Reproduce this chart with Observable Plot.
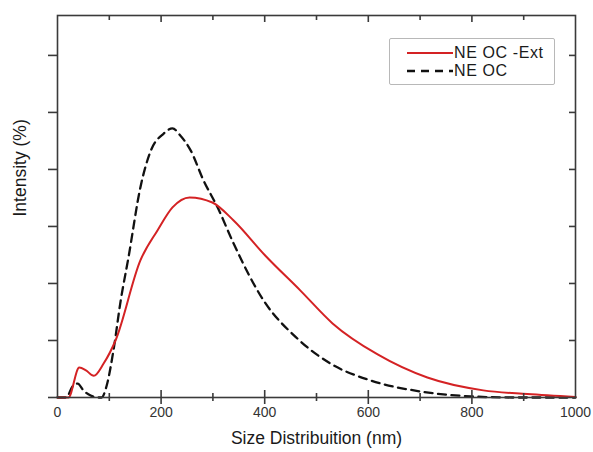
<!DOCTYPE html>
<html>
<head>
<meta charset="utf-8">
<script src="https://cdn.jsdelivr.net/npm/d3@7"></script>
<script src="https://cdn.jsdelivr.net/npm/@observablehq/plot@0.6"></script>
<style>
  body { margin: 0; background: #fff; font-family: "Liberation Sans", Arial, sans-serif; }
  #wrap { position: relative; width: 593px; height: 452px; }
  #legend { position: absolute; left: 389px; top: 38px; width: 166px; height: 47px;
    border: 1.5px solid #b8b8b8; border-radius: 2px; background: #fff; box-sizing: border-box; }
  .row { position: absolute; left: 17px; height: 16px; line-height: 16px; display: flex; align-items: center;
    font-size: 16px; letter-spacing: 0.6px; color: #1a1a1a; white-space: nowrap; }
  .row span { line-height: 16px; }
  .row svg { margin-right: 1px; display: block; }
</style>
</head>
<body>
<div id="wrap"></div>
<script>
// Size (nm) and intensity (%)
const extSize = [0, 21, 42, 55, 70, 89, 112, 160, 193, 222, 255, 299, 340, 400, 469, 531, 618, 714, 822, 907, 1000];
const extIntensity = [0, 0, 1.05, 0.95, 0.76, 1.19, 2.0, 4.81, 5.86, 6.67, 7.02, 6.84, 6.21, 5.0, 3.75, 2.60, 1.51, 0.70, 0.25, 0.12, 0.02];
const ocSize = [0, 17, 29, 39, 50, 64, 77, 85, 95, 108, 122, 137, 160, 180, 205, 222, 237, 257, 282, 309, 340, 398, 463, 527, 604, 701, 797, 880, 1000];
const ocIntensity = [0, 0, 0.39, 0.49, 0.25, 0.07, 0, 0, 0.42, 1.65, 3.40, 4.91, 7.37, 8.65, 9.26, 9.44, 9.19, 8.67, 7.61, 6.67, 5.40, 3.40, 2.07, 1.19, 0.60, 0.21, 0.04, 0, 0];
const seriesNames = ["NE OC -Ext", "NE OC"];
const xMajorTicks = [0, 200, 400, 600, 800, 1000];
const xMinorTicks = [100, 300, 500, 700, 900];
const yTicks = [0, 2, 4, 6, 8, 10, 12];
const xLabel = "Size Distribuition (nm)";
const yLabel = "Intensity (%)";

const ext = extSize.map((s, i) => ({size: s, intensity: extIntensity[i]}));
const oc = ocSize.map((s, i) => ({size: s, intensity: ocIntensity[i]}));

const W = 593, H = 452, mL = 57, mR = 18, mT = 15, mB = 55;
const pw = W - mL - mR, ph = H - mT - mB;
const RED = "#d42224";
const INNER = xMajorTicks.filter(d => d > 0 && d < 1000);

const chart = Plot.plot({
  width: W, height: H,
  marginLeft: mL, marginRight: mR, marginTop: mT, marginBottom: mB,
  style: {fontFamily: "'Liberation Sans', Arial, sans-serif", background: "#fff"},
  x: {domain: [0, 1000]},
  y: {domain: [0, 13.4], axis: null},
  marks: [
    Plot.line(oc, {x: "size", y: "intensity", stroke: "#111", strokeWidth: 2.3, strokeDasharray: "8,5.5", curve: "monotone-x"}),
    Plot.line(ext, {x: "size", y: "intensity", stroke: RED, strokeWidth: 2, curve: "monotone-x"}),
    Plot.frame({stroke: "#3a3a3a", strokeWidth: 1.6}),
    // bottom ticks (crossing)
    Plot.tickX(INNER, {x: d => d, stroke: "#3a3a3a", strokeWidth: 1.6, insetTop: ph - 7, insetBottom: -7}),
    Plot.tickX(xMinorTicks, {x: d => d, stroke: "#3a3a3a", strokeWidth: 1.6, insetTop: ph - 4, insetBottom: -4}),
    // top ticks (inward)
    Plot.tickX(INNER, {x: d => d, stroke: "#3a3a3a", strokeWidth: 1.6, insetBottom: ph - 7}),
    Plot.tickX(xMinorTicks, {x: d => d, stroke: "#3a3a3a", strokeWidth: 1.6, insetBottom: ph - 5}),
    // left ticks (outward)
    Plot.tickY(yTicks, {y: d => d, stroke: "#3a3a3a", strokeWidth: 1.6, insetLeft: -9, insetRight: pw}),
    // right ticks (inward)
    Plot.tickY(yTicks.slice(1), {y: d => d, stroke: "#3a3a3a", strokeWidth: 1.6, insetLeft: pw - 6}),
    Plot.axisX(xMajorTicks, {tickSize: 0, tickPadding: 10, fontSize: 14, fill: "#333", label: null, tickFormat: d => String(d)}),
    Plot.text([xLabel], {frameAnchor: "bottom", dy: 46, fontSize: 17.5, fill: "#1a1a1a"}),
    Plot.text([yLabel], {frameAnchor: "left", dx: -37, dy: 10, rotate: -90, fontSize: 17.5, fill: "#1a1a1a"})
  ]
});

const wrap = document.getElementById("wrap");
wrap.appendChild(chart);

const legend = document.createElement("div");
legend.id = "legend";
const styles = [
  {stroke: RED, dash: null, width: 2},
  {stroke: "#111", dash: "8,6", width: 2.3}
];
seriesNames.forEach((name, i) => {
  const row = document.createElement("div");
  row.className = "row";
  row.style.top = (6 + i * 18) + "px";
  const st = styles[i];
  row.innerHTML = `<svg width="46" height="10"><line x1="0" y1="5" x2="46" y2="5" stroke="${st.stroke}" stroke-width="${st.width}" ${st.dash ? `stroke-dasharray="${st.dash}"` : ""}/></svg><span>${name}</span>`;
  legend.appendChild(row);
});
wrap.appendChild(legend);
</script>
</body>
</html>
